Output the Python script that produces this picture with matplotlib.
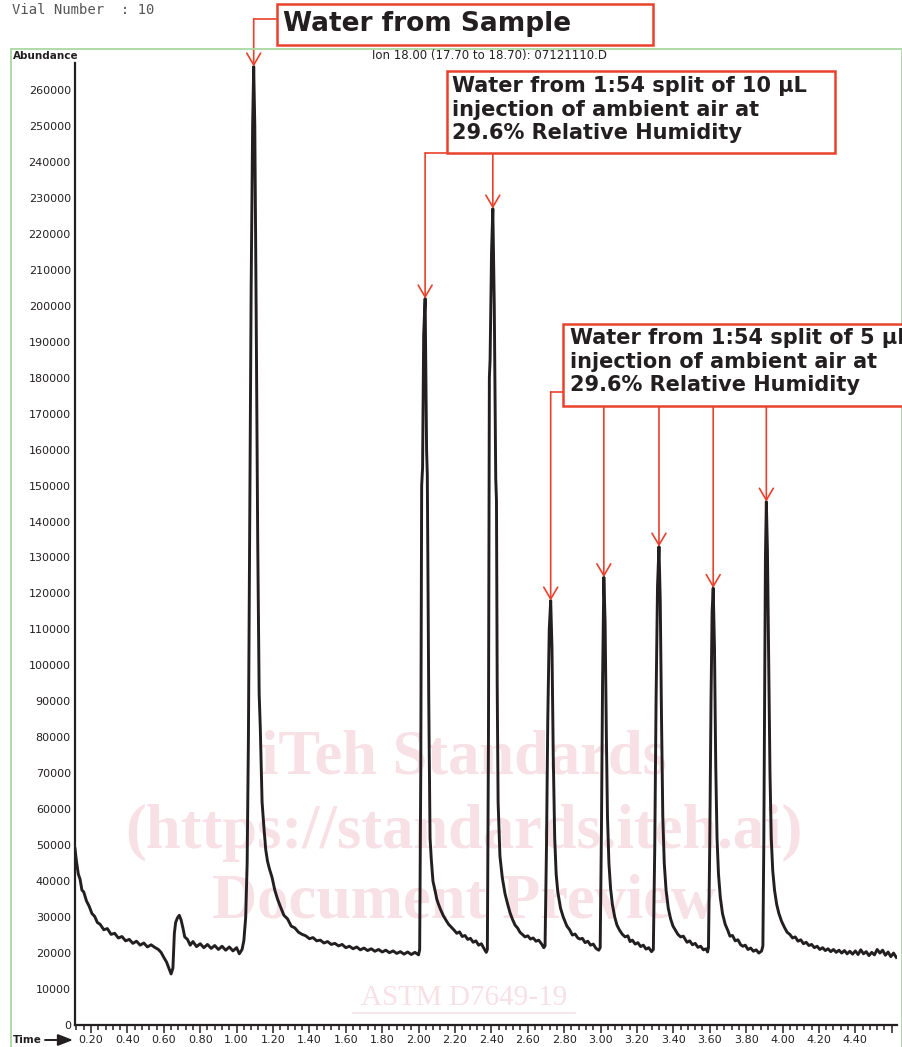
import numpy as np
import matplotlib.pyplot as plt
from matplotlib.patches import Rectangle

W, H = 903, 1047

# chromatogram trace (time in min, abundance)
t_front = [0.112, 0.12, 0.13, 0.14, 0.15, 0.16, 0.175, 0.19, 0.205, 0.22, 0.235, 0.25,
           0.27, 0.29, 0.31, 0.33, 0.35, 0.37, 0.39, 0.41, 0.43, 0.45, 0.47, 0.49, 0.51, 0.53, 0.55, 0.57,
           0.585, 0.60, 0.615, 0.63, 0.64, 0.65, 0.658, 0.665, 0.675, 0.685, 0.695, 0.705, 0.715,
           0.73, 0.745, 0.76, 0.78, 0.80, 0.82, 0.84, 0.86, 0.88, 0.90, 0.92, 0.94, 0.96, 0.98, 1.00,
           1.015, 1.03]
a_front = [49000, 45500, 42000, 40500, 37500, 37000, 34500, 33000, 31000, 30200, 28500, 28000,
           26500, 26800, 25200, 25500, 24200, 24600, 23400, 23800, 22700, 23300, 22200, 22800, 21700, 22300, 21600, 21000,
           20200, 18800, 17500, 15500, 14200, 15800, 25500, 28500, 29800, 30500, 29200, 27000, 24500,
           23800, 22200, 23200, 21800, 22600, 21500, 22400, 21300, 22100, 21000, 21900, 20800, 21700, 20600, 21500,
           19800, 21000]

# water from sample
t_sample = [1.04, 1.05, 1.058, 1.065, 1.072, 1.08, 1.088, 1.094, 1.10, 1.108, 1.116, 1.124, 1.13,
            1.14, 1.15, 1.16, 1.17, 1.18, 1.195, 1.21, 1.225, 1.24,
            1.26, 1.28, 1.30, 1.32, 1.34, 1.36, 1.38, 1.40, 1.42, 1.44, 1.46, 1.48, 1.50, 1.52, 1.54, 1.56,
            1.58, 1.60, 1.62, 1.64, 1.66, 1.68, 1.70, 1.72, 1.74, 1.76, 1.78, 1.80, 1.82, 1.84, 1.86, 1.88,
            1.90, 1.92, 1.94, 1.96, 1.98, 2.00]
a_sample = [23500, 30000, 45000, 80000, 140000, 205000, 250000, 266500, 250000, 195000, 135000, 92000, 83000,
            62000, 55000, 48800, 45500, 43500, 41000, 37500, 35000, 33000,
            30500, 29500, 27500, 27000, 25800, 25200, 24800, 24000, 24300, 23400, 23600, 22800, 23200, 22400, 22700, 22000,
            22400, 21500, 21900, 21200, 21700, 20900, 21400, 20700, 21200, 20500, 21000, 20300, 20800, 20100, 20600, 19900,
            20400, 19700, 20300, 19600, 20200, 19500]

# 10 uL air injections
t_air10 = [2.006, 2.012, 2.017, 2.022, 2.028, 2.036, 2.044, 2.048, 2.052, 2.056,
           2.063, 2.07, 2.079, 2.09, 2.10, 2.11, 2.12,
           2.135, 2.15, 2.165, 2.18, 2.195, 2.21, 2.225, 2.24, 2.255, 2.27, 2.285, 2.30, 2.315, 2.33, 2.345, 2.36, 2.372,
           2.378, 2.384, 2.389, 2.393, 2.401, 2.408, 2.416, 2.424, 2.428, 2.432,
           2.437, 2.447, 2.46, 2.475, 2.49, 2.502, 2.515, 2.53, 2.545, 2.557,
           2.57, 2.585, 2.60, 2.615, 2.63, 2.645, 2.66, 2.675, 2.688]
a_air10 = [21000, 70000, 150000, 155000, 192000, 202000, 160000, 153000, 120000, 90000,
           52000, 46000, 40000, 37500, 35000, 33500, 32200,
           30500, 29200, 28000, 27200, 26400, 25500, 25900, 24600, 24900, 23800, 24100, 23000, 23400, 22200, 22600, 21200, 20200,
           21000, 80000, 180000, 185000, 215000, 227000, 200000, 152000, 146000, 95000,
           62000, 47000, 41000, 36500, 33500, 31300, 29500, 27800, 26900, 25800,
           25200, 24500, 24800, 23900, 24200, 23300, 23600, 22600, 21500]

# 5 uL air injections
t_air5a = [2.695, 2.703, 2.71, 2.718, 2.726, 2.733, 2.74, 2.748, 2.756, 2.765,
           2.78, 2.795, 2.815, 2.83, 2.845, 2.86, 2.875, 2.887, 2.90, 2.915,
           2.93, 2.945, 2.96, 2.975, 2.99]
a_air5a = [22000, 50000, 85000, 110000, 118000, 105000, 75000, 52000, 42000, 37000,
           32500, 30000, 27500, 26500, 25000, 25300, 24200, 23900, 24100, 22900,
           23300, 22200, 22500, 21300, 20800]
t_air5b = [2.998, 3.005, 3.011, 3.018, 3.025, 3.032, 3.038, 3.046, 3.055, 3.065,
           3.078, 3.09, 3.105, 3.12, 3.135, 3.15, 3.162, 3.175, 3.19, 3.205,
           3.22, 3.235, 3.25, 3.265, 3.28]
a_air5b = [21500, 55000, 95000, 124500, 112000, 80000, 58000, 45000, 38000, 33500,
           30000, 27800, 26300, 25200, 24500, 24800, 23200, 23600, 22500, 22900,
           21800, 22200, 21100, 21500, 20400]
t_air5c = [3.29, 3.298, 3.305, 3.313, 3.321, 3.328, 3.335, 3.342, 3.35, 3.36,
           3.372, 3.385, 3.398, 3.41, 3.425, 3.44, 3.455, 3.475, 3.49, 3.505,
           3.52, 3.535, 3.55, 3.565, 3.58, 3.588]
a_air5c = [21000, 50000, 90000, 122000, 133000, 118000, 85000, 58000, 45000, 37500,
           32500, 29500, 27500, 26500, 25200, 24500, 24700, 23000, 23400, 22300,
           22700, 21600, 21900, 20900, 21200, 20300]
t_air5d = [3.593, 3.6, 3.607, 3.613, 3.619, 3.626, 3.633, 3.64, 3.648, 3.658,
           3.67, 3.685, 3.7, 3.711, 3.725, 3.74, 3.755, 3.77, 3.782, 3.795,
           3.81, 3.825, 3.84, 3.855, 3.87, 3.885]
a_air5d = [21500, 50000, 90000, 115000, 121500, 105000, 72000, 52000, 42000, 35500,
           31000, 28000, 26200, 24700, 24900, 23400, 23700, 22300, 21900, 22200,
           21000, 21400, 20500, 20900, 20000, 20600]
t_air5e = [3.892, 3.897, 3.902, 3.906, 3.911, 3.917, 3.924, 3.931, 3.938, 3.946,
           3.956, 3.968, 3.98, 3.995, 4.01, 4.025, 4.04, 4.055, 4.07, 4.085,
           4.10, 4.115, 4.13, 4.145, 4.16, 4.175, 4.19, 4.205, 4.22, 4.235,
           4.25, 4.265, 4.28, 4.295, 4.31, 4.325, 4.34, 4.355, 4.37, 4.385,
           4.40, 4.415, 4.43, 4.445, 4.46, 4.475, 4.49, 4.505, 4.52, 4.535,
           4.55, 4.565, 4.58, 4.595, 4.61, 4.625]
a_air5e = [22000, 50000, 95000, 130000, 145500, 132000, 100000, 70000, 52000, 43000,
           37500, 33500, 31000, 28800, 27200, 25800, 25200, 24200, 24500, 23300,
           23700, 22600, 23000, 22100, 22400, 21500, 21900, 21000, 21500, 20700,
           21200, 20400, 21000, 20200, 20800, 20000, 20700, 19800, 20500, 19700,
           20600, 19600, 20900, 19800, 20400, 19300, 20200, 19500, 21000, 20000,
           20800, 19400, 20300, 19000, 20000, 18800]

# apex of each labelled peak
peak_t = [1.094, 2.036, 2.408, 2.726, 3.018, 3.321, 3.619, 3.911]
peak_a = [266500, 202000, 227000, 118000, 124500, 133000, 121500, 145500]

y_ticks = list(range(0, 260001, 10000))
x_major = [0.2, 0.4, 0.6, 0.8, 1.0, 1.2, 1.4, 1.6, 1.8, 2.0, 2.2, 2.4,
           2.6, 2.8, 3.0, 3.2, 3.4, 3.6, 3.8, 4.0, 4.2, 4.4, 4.6]
x_labels = ['0.20', '0.40', '0.60', '0.80', '1.00', '1.20', '1.40', '1.60', '1.80', '2.00', '2.20', '2.40',
            '2.60', '2.80', '3.00', '3.20', '3.40', '3.60', '3.80', '4.00', '4.20', '4.40', '']

label_sample = 'Water from Sample'
label_10 = 'Water from 1:54 split of 10 µL\ninjection of ambient air at\n29.6% Relative Humidity'
label_5 = 'Water from 1:54 split of 5 µL\ninjection of ambient air at\n29.6% Relative Humidity'

time = np.concatenate([t_front, t_sample, t_air10, t_air5a, t_air5b, t_air5c, t_air5d, t_air5e])
abund = np.concatenate([a_front, a_sample, a_air10, a_air5a, a_air5b, a_air5c, a_air5d, a_air5e])

ink = '#231f20'
red = '#e8412c'
pink = '#f8e0e7'


def fx(x):
    return x / W


def fy(y):
    return 1 - y / H


fig = plt.figure(figsize=(W / 100, H / 100), dpi=100)
ax = fig.add_axes([fx(75), fy(1025), fx(897) - fx(75), fy(63) - fy(1025)])
ax.set_facecolor('none')

ax.plot(time, abund, color=ink, lw=2.1, zorder=2, solid_joinstyle='round')
ax.set_xlim(0.112, 4.629)
ax.set_ylim(0, 267500)

for s in ['top', 'right']:
    ax.spines[s].set_visible(False)
for s in ['left', 'bottom']:
    ax.spines[s].set_linewidth(1.6)
    ax.spines[s].set_color(ink)

ax.set_yticks(y_ticks)
ax.set_yticklabels([str(v) for v in y_ticks])
ax.tick_params(axis='y', length=0, pad=3, labelsize=8, labelcolor=ink)
ax.set_xticks(x_major)
ax.set_xticklabels(x_labels)
ax.set_xticks(np.arange(0.12, 4.62, 0.04), minor=True)
ax.tick_params(axis='x', which='major', length=6, width=1.1, pad=1, labelsize=8,
               color=ink, labelcolor=ink)
ax.tick_params(axis='x', which='minor', length=3.5, width=1.1, color=ink)

# watermark
wm = dict(transform=fig.transFigure, color=pink, ha='center', va='center',
          family='Liberation Serif', fontweight='bold', fontsize=45, zorder=0.5)
ax.text(fx(464), fy(758), 'iTeh Standards', **wm)
ax.text(fx(464), fy(833), '(https://standards.iteh.ai)', **wm)
ax.text(fx(464), fy(903), 'Document Preview', **wm)
ax.text(fx(464), fy(998), 'ASTM D7649-19', transform=fig.transFigure, color=pink, ha='center',
        va='center', family='Liberation Serif', fontsize=21, zorder=0.5)
ax.plot([fx(353), fx(575)], [fy(1013), fy(1013)], transform=fig.transFigure, color=pink,
        lw=1.2, zorder=0.5, clip_on=False)

# frame and header texts
fig.add_artist(Rectangle((fx(11), -0.02), fx(902) - fx(11), fy(49) + 0.02, transform=fig.transFigure,
                         fill=False, edgecolor='#a9d9a1', lw=1.3, zorder=0.2))
fig.text(fx(12), fy(10), 'Vial Number  : 10', family='DejaVu Sans Mono', fontsize=10,
         color='#555555', va='center')
fig.text(fx(13), fy(56), 'Abundance', fontsize=7.5, fontweight='bold', color=ink, va='center')
fig.text(fx(490), fy(56), 'Ion 18.00 (17.70 to 18.70): 07121110.D', fontsize=8.5, color=ink,
         ha='center', va='center')
fig.text(fx(13), fy(1040), 'Time', fontsize=7.5, fontweight='bold', color=ink, va='center')
ax.annotate('', xy=(fx(73), fy(1040)), xytext=(fx(45), fy(1040)), xycoords='figure fraction',
            arrowprops=dict(arrowstyle='-|>,head_length=0.9,head_width=0.35', lw=1.4, color=ink,
                            shrinkA=0, shrinkB=0), annotation_clip=False)

# callout boxes
boxes = [(277, 4, 653, 45), (447, 71, 835, 153), (563, 324, 930, 406)]
for x0, y0, x1, y1 in boxes:
    fig.add_artist(Rectangle((fx(x0), fy(y1)), fx(x1) - fx(x0), fy(y0) - fy(y1),
                             transform=fig.transFigure, facecolor='white', edgecolor=red, lw=1.8, zorder=1))
fig.text(fx(283), fy(24), label_sample, fontsize=19, fontweight='bold', color=ink, va='center', zorder=3)
fig.text(fx(452), fy(76), label_10, fontsize=15, fontweight='bold', color=ink, va='top',
         linespacing=1.22, zorder=3)
fig.text(fx(570), fy(328), label_5, fontsize=15, fontweight='bold', color=ink, va='top',
         linespacing=1.22, zorder=3)

head = dict(arrowstyle='->,head_length=0.85,head_width=0.5', color=red, lw=1.2, shrinkA=0, shrinkB=0)
line = dict(arrowstyle='-', color=red, lw=1.2, shrinkA=0, shrinkB=0)


def elbow(i, y_start, x_box=None):
    if x_box is not None:
        ax.annotate('', xy=(peak_t[i], fy(y_start)), xycoords=('data', 'figure fraction'),
                    xytext=(fx(x_box), fy(y_start)), textcoords='figure fraction',
                    arrowprops=line, annotation_clip=False)
    ax.annotate('', xy=(peak_t[i], peak_a[i]), xycoords='data',
                xytext=(peak_t[i], fy(y_start)), textcoords=('data', 'figure fraction'),
                arrowprops=head, annotation_clip=False)


elbow(0, 19, 277)
elbow(1, 153, 447)
elbow(2, 153)
elbow(3, 392, 563)
for k in [4, 5, 6, 7]:
    elbow(k, 406)

fig.savefig('out.png', dpi=100)
